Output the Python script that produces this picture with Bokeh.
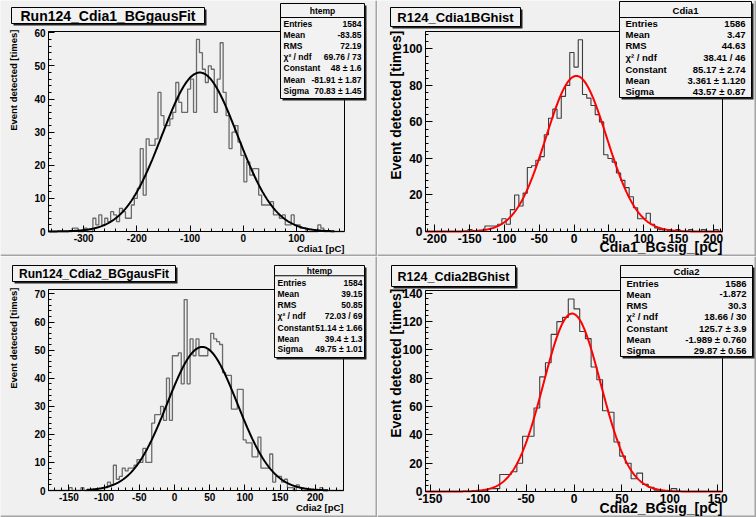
import numpy as np
from bokeh.plotting import figure
from bokeh.models import (Label, BoxAnnotation, SingleIntervalTicker, Range1d,
                          PrintfTickFormatter)
from bokeh.layouts import row, column
from bokeh.embed import file_html
from bokeh.resources import INLINE

FONT = "Liberation Sans"
PAD_BG = "#f0f0f0"
BOX_BG = "#f2f2f2"

# ---------------------------------------------------------------- data
# Run124 Cdia1 background charge, 100 bins
cdia1_edges = (-366.0, 190.0)
cdia1_counts = [0, 0, 0, 0, 0, 0, 0, 0, 1, 1, 0, 0, 1, 0, 0,
                4, 2, 5, 2, 4, 3, 6, 5, 3, 7,
                6, 4, 4, 8, 10, 13, 25, 11, 28, 26,
                26, 28, 42, 35, 32, 32, 34, 36, 45, 39,
                36, 36, 43, 46, 36, 58, 54, 49, 45, 50,
                49, 36, 46, 57, 42, 35, 25, 30, 32, 27,
                23, 15, 21, 17, 19, 19, 11, 8, 8, 8,
                9, 5, 5, 4, 5, 2, 2, 5, 2, 2,
                1, 1, 0, 0, 0, 0, 2, 1,
                0, 0, 0, 0, 0, 0, 0]
cdia1_fit = (48.0, -81.91, 70.83)          # Constant, Mean, Sigma
cdia1_stats = [("Entries", "1584"), ("Mean", "-83.85"), ("RMS", "72.19"),
               ("\u03c7\u00b2 / ndf", "69.76 / 73"), ("Constant", "48 \u00b1 1.6"),
               ("Mean", "-81.91 \u00b1 1.87"), ("Sigma", "70.83 \u00b1 1.45")]

# R124 Cdia1 background signal, 70 bins
cdia1sig_edges = (-213.5, 213.5)
cdia1sig_counts = [0, 0, 0, 0, 0, 0, 0, 0, 0, 0,
                   1, 0, 0, 0,
                   3, 3, 3, 4, 7, 4, 12, 20, 14, 21,
                   35, 36, 39, 41, 53, 62, 67, 62, 74, 80,
                   98, 90, 105, 75, 73, 69, 64, 60, 42, 40,
                   38, 32, 28, 24, 19, 13, 7, 7, 10, 4,
                   2, 1, 0, 1, 0, 1, 0, 0, 1, 0,
                   0, 1, 0, 0, 1, 0]
cdia1sig_fit = (85.17, 3.361, 43.57)
cdia1sig_stats = [("Entries", "1586"), ("Mean", "3.47"), ("RMS", "44.63"),
                  ("\u03c7\u00b2 / ndf", "38.41 / 46"), ("Constant", "85.17 \u00b1 2.74"),
                  ("Mean", "3.361 \u00b1 1.120"), ("Sigma", "43.57 \u00b1 0.87")]

# Run124 Cdia2 background charge, 100 bins
cdia2_edges = (-179.0, 240.0)
cdia2_counts = [0, 0, 0, 0, 0, 0, 0, 1, 0, 0, 0, 1, 0, 0, 0, 0, 0, 0, 0, 1,
                3, 2, 9, 4, 5, 8, 7, 8, 8, 9,
                11, 10, 15, 10, 10, 24, 27, 27, 30, 25,
                40, 25, 48, 48, 49, 38, 68, 38, 54, 48,
                54, 48, 48, 48, 50, 56, 54, 53, 52, 42,
                41, 41, 29, 29, 36, 36, 18, 17, 17, 12,
                12, 19, 8, 8, 8, 13, 3, 5, 5, 3,
                4, 1, 1, 0, 2, 1, 0, 0, 0, 0,
                0, 0, 1, 0, 0, 0, 0, 0, 0, 0]
cdia2_fit = (51.14, 39.4, 49.75)
cdia2_stats = [("Entries", "1584"), ("Mean", "39.15"), ("RMS", "50.85"),
               ("\u03c7\u00b2 / ndf", "72.03 / 69"), ("Constant", "51.14 \u00b1 1.66"),
               ("Mean", "39.4 \u00b1 1.3"), ("Sigma", "49.75 \u00b1 1.01")]

# R124 Cdia2 background signal, 52 bins
cdia2sig_edges = (-155.0, 155.0)
cdia2sig_counts = [0, 0, 0, 0, 0, 0, 0, 0, 0, 0,
                   1, 2, 2, 12, 12, 14, 20, 39, 39, 59,
                   81, 91, 111, 120, 123, 136, 129, 113, 108, 88,
                   79, 57, 56, 35, 25, 20, 9, 13, 5, 3,
                   1, 0, 0, 2, 0, 0, 0, 0, 0, 0, 0, 0]
cdia2sig_fit = (125.7, -1.989, 29.87)
cdia2sig_stats = [("Entries", "1586"), ("Mean", "-1.872"), ("RMS", "30.3"),
                  ("\u03c7\u00b2 / ndf", "18.66 / 30"), ("Constant", "125.7 \u00b1 3.9"),
                  ("Mean", "-1.989 \u00b1 0.760"), ("Sigma", "29.87 \u00b1 0.56")]


def make_panel(cfg):
    """One ROOT-style pad: the Bokeh frame covers the whole pad, and the
    histogram box sits inside it at the pixel rectangle cfg['frame']."""
    ox, oy, W, H = cfg["canvas"]
    fl, ft, fr, fb = cfg["frame"]
    lo, hi = cfg["edges"]
    ymax = cfg["ymax"]
    counts = cfg["counts"]

    # extend the ranges so that [lo, hi] x [0, ymax] lands on the inner box
    sx = (hi - lo) / (fr - fl)
    sy = ymax / (fb - ft)
    xr = Range1d(lo - (fl - ox) * sx, hi + (ox + W - fr) * sx)
    yr = Range1d(-(oy + H - fb) * sy, ymax + (ft - oy) * sy)

    p = figure(width=W, height=H, title=None, output_backend="svg",
               toolbar_location=None, x_range=xr, y_range=yr,
               min_border=0, min_border_left=0, min_border_right=0,
               min_border_top=0, min_border_bottom=0)
    p.background_fill_color = PAD_BG
    p.border_fill_color = PAD_BG
    p.outline_line_color = None
    p.xgrid.visible = False
    p.ygrid.visible = False

    p.xaxis.fixed_location = 0
    p.xaxis.bounds = (lo, hi)
    p.yaxis.fixed_location = lo
    p.yaxis.bounds = (0, ymax)
    for ax, step in ((p.xaxis[0], cfg["xtick"]), (p.yaxis[0], cfg["ytick"])):
        ax.ticker = SingleIntervalTicker(interval=step, num_minor_ticks=5)
        ax.formatter = PrintfTickFormatter(format="%d")
        ax.major_tick_in = cfg["tick_len"]
        ax.major_tick_out = 0
        ax.minor_tick_in = cfg["tick_len"] // 2
        ax.minor_tick_out = 0
        ax.axis_line_color = "black"
        ax.major_tick_line_color = "black"
        ax.minor_tick_line_color = "black"
        ax.major_label_text_font = FONT
        ax.major_label_text_font_style = "bold"
        ax.major_label_text_font_size = f"{cfg['tick_fs']}px"
        ax.major_label_text_color = "black"
    p.xaxis.major_label_standoff = 2
    p.yaxis.major_label_standoff = 3

    # histogram frame
    p.quad(left=[lo], right=[hi], bottom=[0], top=[ymax], fill_color=None,
           line_color="black", line_width=1)

    # histogram outline
    edges = np.linspace(lo, hi, len(counts) + 1)
    p.step(x=edges, y=list(counts) + [counts[-1]], mode="after",
           line_color=cfg["hist_color"], line_width=cfg["hist_width"])

    # gaussian fit
    C, mu, sig = cfg["fit"]
    a, b = cfg["fit_span"]
    xs = np.linspace(a, b, 600)
    p.line(xs, C * np.exp(-0.5 * ((xs - mu) / sig) ** 2),
           line_color=cfg["fit_color"], line_width=2)

    def box(x0, y0, x1, y1, fill, line=None):
        p.add_layout(BoxAnnotation(
            left=x0 - ox, right=x1 - ox, top=y0 - oy, bottom=y1 - oy,
            left_units="canvas", right_units="canvas",
            top_units="canvas", bottom_units="canvas",
            fill_color=fill, fill_alpha=1.0,
            line_color=line, line_alpha=1.0, line_width=1))

    def text(x, y, s, fs, align="left", angle=0.0):
        p.add_layout(Label(
            x=x - ox, y=y - oy, x_units="canvas", y_units="canvas",
            text=s, text_font=FONT, text_font_style="bold",
            text_font_size=f"{fs}px", text_color="black",
            text_align=align, text_baseline="middle", angle=angle))

    # pad edges
    box(ox + W - 2, oy, ox + W, oy + H, "#a4a4a4")
    box(ox, oy + H - 2, ox + W, oy + H, "#a4a4a4")

    # title box
    x0, y0, x1, y1 = cfg["title_box"]
    box(x0 + 2, y0 + 2, x1 + 2, y1 + 2, "#202020")
    box(x0, y0, x1, y1, BOX_BG, "black")
    text((x0 + x1) / 2, (y0 + y1) / 2 + 0.5, cfg["title"], cfg["title_fs"], "center")

    # statistics box
    x0, y0, x1, y1 = cfg["stats_box"]
    box(x0 + 2, y0 + 2, x1 + 2, y1 + 2, "#202020")
    box(x0, y0, x1, y1, BOX_BG, "black")
    box(x0, cfg["sep_y"], x1, cfg["sep_y"] + 1, "black")
    fs = cfg["stats_fs"]
    text((x0 + x1) / 2, cfg["header_y"], cfg["stats_name"], fs, "center")
    for (name, val), yy in zip(cfg["stats"], cfg["rows_y"]):
        text(cfg["stats_lx"], yy, name, fs, "left")
        text(cfg["stats_rx"], yy, val, fs, "right")

    # axis titles
    s, x, y, f = cfg["ylabel"]
    text(x, y, s, f, "right", angle=np.pi / 2)
    s, x, y, f = cfg["xlabel"]
    text(x, y, s, f, "right")
    return p


YLAB = "Event detected [times]"

tl = make_panel(dict(
    canvas=(0, 0, 377, 256), frame=(48, 31, 344, 231),
    edges=cdia1_edges, counts=cdia1_counts, ymax=60.4,
    xtick=100, ytick=10, tick_len=6, tick_fs=10,
    hist_color="#6a6a6a", hist_width=1.3,
    fit=cdia1_fit, fit_span=(-366.0, 171.0), fit_color="black",
    title="Run124_Cdia1_BGgausFit", title_box=(11, 7, 204, 23), title_fs=14,
    stats_name="htemp", stats=cdia1_stats, stats_box=(280, 3, 364, 98),
    stats_fs=8.5, header_y=10, sep_y=16.5,
    rows_y=[23.3, 34, 45, 56, 67.5, 79, 90], stats_lx=283, stats_rx=361,
    ylabel=(YLAB, 13, 29, 9.5), xlabel=("Cdia1 [pC]", 344, 248, 9.5)))

tr = make_panel(dict(
    canvas=(377, 0, 379, 256), frame=(425, 31, 722, 231),
    edges=cdia1sig_edges, counts=cdia1sig_counts, ymax=109.5,
    xtick=50, ytick=20, tick_len=7, tick_fs=12,
    hist_color="#3c3c3c", hist_width=1.1,
    fit=cdia1sig_fit, fit_span=cdia1sig_edges, fit_color="#ff0000",
    title="R124_Cdia1BGhist", title_box=(390, 7, 520, 26), title_fs=13,
    stats_name="Cdia1", stats=cdia1sig_stats, stats_box=(619, 1, 751, 97),
    stats_fs=9.5, header_y=9.5, sep_y=16.5,
    rows_y=[23.3, 34, 45, 57, 68.7, 80, 90.7], stats_lx=625, stats_rx=745,
    ylabel=(YLAB, 395, 30, 14), xlabel=("Cdia1_BGsig_[pC]", 722, 246, 14)))

bl = make_panel(dict(
    canvas=(0, 256, 377, 261), frame=(48, 289, 343, 490),
    edges=cdia2_edges, counts=cdia2_counts, ymax=71.6,
    xtick=50, ytick=10, tick_len=6, tick_fs=10,
    hist_color="#6a6a6a", hist_width=1.3,
    fit=cdia2_fit, fit_span=(-125.0, 218.0), fit_color="black",
    title="Run124_Cdia2_BGgausFit", title_box=(12, 265, 175, 281), title_fs=12,
    stats_name="htemp", stats=cdia2_stats, stats_box=(274, 265, 364, 357),
    stats_fs=8.5, header_y=270, sep_y=274.7,
    rows_y=[282, 293.3, 304.3, 315.3, 327, 338, 348.7], stats_lx=277, stats_rx=362,
    ylabel=(YLAB, 13, 287, 9.5), xlabel=("Cdia2 [pC]", 343, 506.5, 9.5)))

br = make_panel(dict(
    canvas=(377, 256, 379, 261), frame=(425, 290, 722, 491),
    edges=cdia2sig_edges, counts=cdia2sig_counts, ymax=142,
    xtick=50, ytick=20, tick_len=7, tick_fs=12,
    hist_color="#3c3c3c", hist_width=1.1,
    fit=cdia2sig_fit, fit_span=cdia2sig_edges, fit_color="#ff0000",
    title="R124_Cdia2BGhist", title_box=(391, 265, 515, 286), title_fs=12.5,
    stats_name="Cdia2", stats=cdia2sig_stats, stats_box=(620, 265, 752, 356),
    stats_fs=9.5, header_y=271, sep_y=276.5,
    rows_y=[283, 293.7, 305, 316.3, 328, 339, 350], stats_lx=626, stats_rx=746,
    ylabel=(YLAB, 395, 288, 14), xlabel=("Cdia2_BGsig_[pC]", 722, 507, 14)))

layout = column(row(tl, tr, spacing=0), row(bl, br, spacing=0), spacing=0)

with open("out.html", "w") as fh:
    fh.write(file_html(layout, INLINE))
